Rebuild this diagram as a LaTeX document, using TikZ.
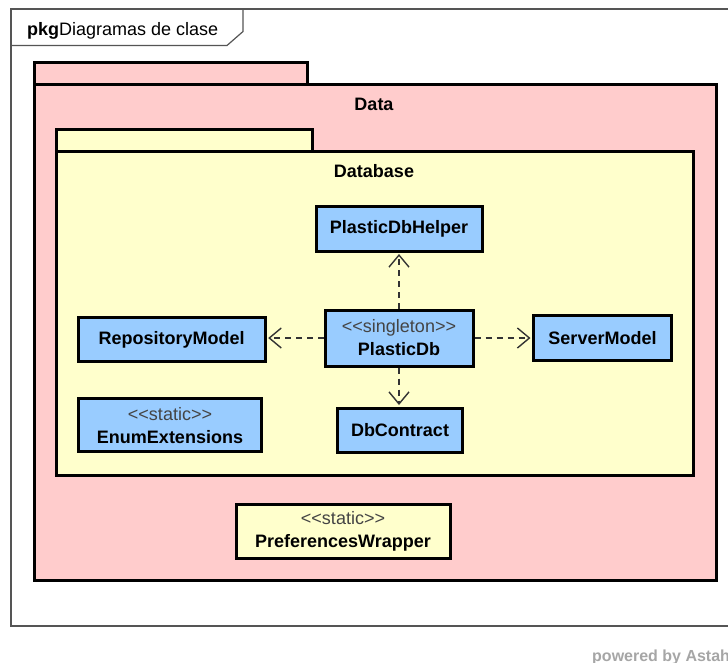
\documentclass[tikz,border=0pt]{standalone}
\usepackage{fontspec}
\setmainfont{Liberation Sans}
\usetikzlibrary{arrows.meta}
\definecolor{pkgpink}{HTML}{FFCCCC}
\definecolor{pkgyellow}{HTML}{FFFFCC}
\definecolor{classblue}{HTML}{99CCFF}
\definecolor{framegray}{HTML}{555555}
\definecolor{stereo}{HTML}{444444}
\definecolor{depgray}{HTML}{333333}
\newcommand{\labelfont}{\fontsize{18}{23}\selectfont}
\tikzset{
  pkgbody/.style={draw=black, line width=3pt},
  classbox/.style={draw=black, line width=3pt, fill=classblue, rectangle,
    inner sep=0pt, align=center, font=\labelfont\bfseries, text=black},
  dep/.style={draw=depgray, line width=1.4pt, dash pattern=on 6pt off 5pt,
    -{Straight Barb[length=12pt,width=20pt,line width=1.4pt]}, shorten >=1.5pt},
  txt/.style={inner sep=0pt, font=\labelfont\bfseries},
}
% stereotype line: angle brackets kept apart so they are not joined into guillemets
\newcommand{\stereotype}[1]{{\mdseries\color{stereo}<\kern0pt<#1>\kern0pt>}}
\begin{document}
\begin{tikzpicture}[x=1pt, y=-1pt, font=\labelfont]
\useasboundingbox (0,0) rectangle (728,662);
\fill[white] (0,0) rectangle (728,662);

% outer diagram frame with its name tab
\draw[framegray, line width=1.2pt] (760,9) -- (11,9) -- (11,626) -- (760,626);
\draw[framegray, line width=1.2pt] (11,45.5) -- (227,45.5) -- (243,31.5) -- (243,9);
\node[anchor=base west, inner sep=0pt] (framelabel) at (27,35)
  {\textbf{pkg}Diagramas de clase};

% package Data
\filldraw[pkgbody, fill=pkgpink] (34,62) rectangle (307,84);
\filldraw[pkgbody, fill=pkgpink] (34,84) rectangle (716,580);
\node[txt] (datalabel) at (374,104) {Data};

% package Database
\filldraw[pkgbody, fill=pkgyellow] (56,129) rectangle (312,151.5);
\filldraw[pkgbody, fill=pkgyellow] (56,151.5) rectangle (693,475);
\node[txt] (dblabel) at (374,171) {Database};

% classes
\node[classbox, minimum width=166pt, minimum height=45pt] (helper) at (399,228.5) {PlasticDbHelper};
\node[classbox, minimum width=148pt, minimum height=56pt] (pdb) at (399,338)
  {\stereotype{singleton}\\PlasticDb};
\node[classbox, minimum width=187pt, minimum height=44pt] (repo) at (171.7,339.5) {RepositoryModel};
\node[classbox, minimum width=138pt, minimum height=45pt] (server) at (602.5,338.3) {ServerModel};
\node[classbox, minimum width=183pt, minimum height=53pt] (enumext) at (170,425.3)
  {\stereotype{static}\\EnumExtensions};
\node[classbox, minimum width=125pt, minimum height=44pt] (contract) at (400,430) {DbContract};
\node[classbox, fill=pkgyellow, minimum width=214pt, minimum height=54pt] (prefs) at (343,531.3)
  {\stereotype{static}\\PreferencesWrapper};

% dependencies
\draw[dep] (pdb.north) -- (helper.south);
\draw[dep] (pdb.south) -- (contract.north -| pdb.south);
\draw[dep] (pdb.west) -- (pdb.west -| repo.east);
\draw[dep] (pdb.east) -- (pdb.east -| server.west);

% tool watermark
\node[anchor=base west, inner sep=0pt, text=black!35, font=\fontsize{16}{18}\selectfont\bfseries]
  (watermark) at (592,661) {powered by Astah};
\end{tikzpicture}
\end{document}
